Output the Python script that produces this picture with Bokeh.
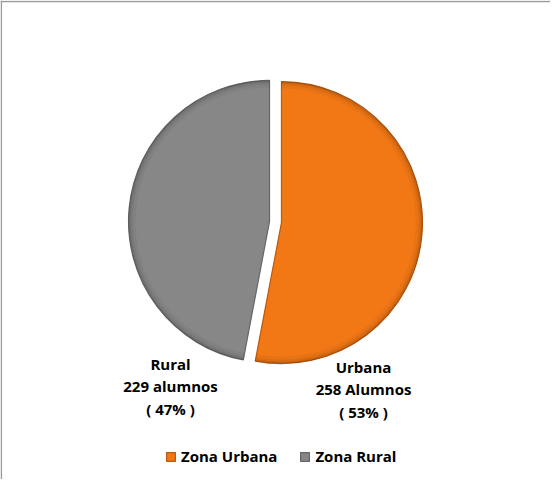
import numpy as np
from bokeh.plotting import figure
from bokeh.models import ColumnDataSource, Range1d, Span, Legend, LegendItem
from bokeh.core.properties import value
from bokeh.embed import file_html
from bokeh.resources import INLINE

# ---- data ----
categories = ["Urbana", "Rural"]
legend_labels = ["Zona Urbana", "Zona Rural"]
counts = [258, 229]
unit_words = ["Alumnos", "alumnos"]

# ---- style ----
colors = ["#F27816", "#878787"]
edge_colors = ["#B85A10", "#666666"]
FONT = "Open Sans"

W, H = 550, 479
p = figure(width=W, height=H, x_range=Range1d(0, W), y_range=Range1d(0, H),
           output_backend="svg", toolbar_location=None, min_border=0)
p.axis.visible = False
p.grid.visible = False
p.outline_line_color = None
p.background_fill_color = "white"
p.border_fill_color = "white"

# frame lines (top and left)
p.add_layout(Span(location=478, dimension="width", line_color="#9a9a9a", line_width=1.5))
p.add_layout(Span(location=0.8, dimension="height", line_color="#9a9a9a", line_width=1.5))

cx, cy, r, explode = 275, 257.5, 141, 6

vals = np.array(counts, dtype=float)
frac = vals / vals.sum()
ends = np.pi / 2 - 2 * np.pi * np.concatenate([[0], np.cumsum(frac)[:-1]])
starts = ends - 2 * np.pi * frac
mids = (starts + ends) / 2
xs = cx + explode * np.cos(mids)
ys = cy + explode * np.sin(mids)

src = ColumnDataSource(dict(x=xs, y=ys, start=starts, end=ends,
                            color=colors, edge=edge_colors, label=legend_labels))

wr = p.wedge(x="x", y="y", radius=r, start_angle="start", end_angle="end",
             fill_color="color", line_color="edge", line_width=1.2, source=src)

# bevel shading toward the rim
for k, a in [(7, 0.04), (4, 0.06), (2, 0.08)]:
    p.annular_wedge(x="x", y="y", inner_radius=r - k, outer_radius=r,
                    start_angle="start", end_angle="end",
                    fill_color="black", fill_alpha=a, line_color=None, source=src)

# data labels
pcts = np.round(frac * 100).astype(int)
label_dx = [88, -105]
label_dy = [-144.5, -141.5]
line_gap = 22.5
lx, ly, lt = [], [], []
for i in range(len(categories)):
    lines = [categories[i], f"{counts[i]} {unit_words[i]}", f"( {pcts[i]}% )"]
    for j, t in enumerate(lines):
        lx.append(cx + label_dx[i])
        ly.append(cy + label_dy[i] - j * line_gap)
        lt.append(t)
p.text(x=lx, y=ly, text=lt, text_align="center", text_baseline="middle",
       text_font=value(FONT), text_font_style="bold", text_font_size="15px",
       text_color="#000000")

legend = Legend(items=[LegendItem(label=legend_labels[i], renderers=[wr], index=i)
                       for i in range(len(categories))],
                orientation="horizontal", location=(165, 13),
                glyph_width=11, glyph_height=11, label_standoff=5, spacing=22,
                padding=0, margin=0, border_line_color=None, background_fill_alpha=0,
                label_text_font=FONT, label_text_font_style="bold",
                label_text_font_size="15px", label_text_color="#000000")
p.add_layout(legend)

open("out.html", "w").write(file_html(p, INLINE))
